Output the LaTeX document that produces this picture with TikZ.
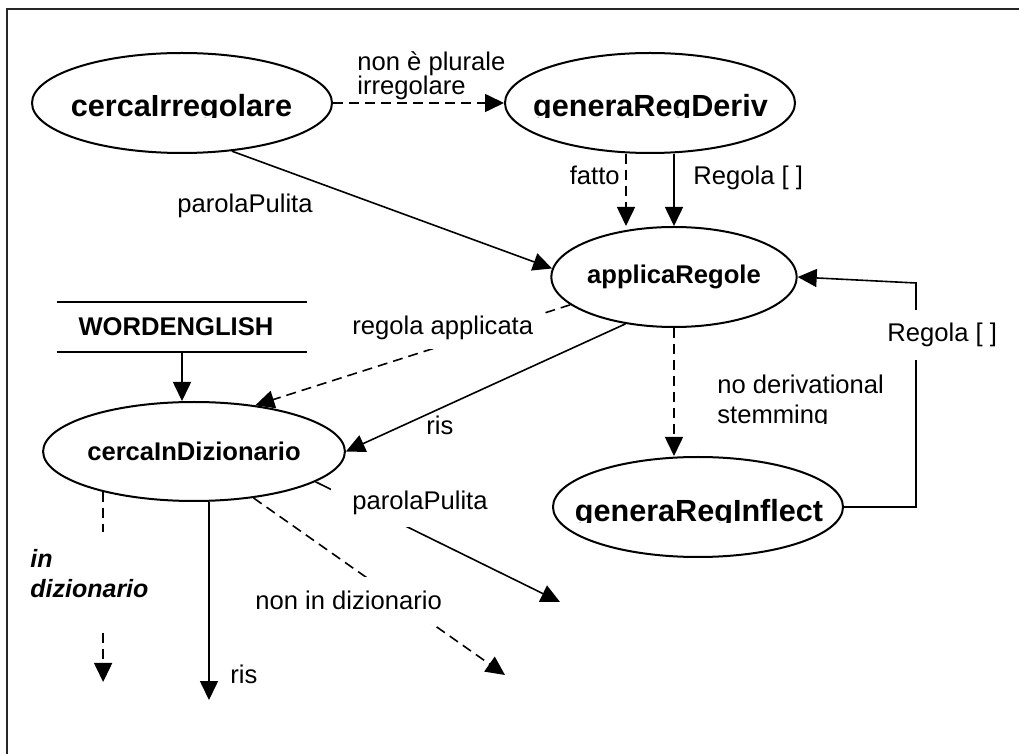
\documentclass[tikz,border=0pt]{standalone}
\usepackage{fontspec}
\setmainfont{Liberation Sans}
\usetikzlibrary{arrows.meta,shapes.geometric}
\begin{document}
\begin{tikzpicture}[x=0.5pt,y=-0.5pt,
  state/.style={draw, ellipse, line width=1pt, inner sep=0pt},
  bigname/.style={font=\fontsize{15.3}{18}\selectfont\bfseries, inner sep=0pt},
  midname/.style={font=\fontsize{12.8}{15}\selectfont\bfseries},
  lbl/.style={font=\fontsize{12.8}{15}\selectfont, inner sep=0pt},
  cover/.style={fill=white},
  flow/.style={line width=0.8pt, -{Triangle[length=9.5pt,width=9pt]}},
  alt/.style={flow, dash pattern=on 5pt off 3pt},
  frameline/.style={line width=1.3pt, black!85}
]
\useasboundingbox (0,0) rectangle (1019,754);

% page frame (top and left rules)
\draw[frameline] (7,754) -- (7,9) -- (1019,9);

% processes
\node[state, minimum width=150pt, minimum height=50pt] (ci) at (182,103) {};
\node[state, minimum width=145pt, minimum height=50pt] (gd) at (650,103) {};
\node[state, minimum width=121pt, minimum height=50pt, midname] (ar) at (674,277) {applicaRegole};
\node[state, minimum width=145pt, minimum height=50pt] (gi) at (698,507) {};
\node[state, minimum width=137pt, minimum height=49.5pt, midname] (cd) at (194,451.5) {cercaInDizionario};

% process names whose descenders are cut at the baseline
\begin{scope}
  \clip (20,60) rectangle (340,118);
  \node[bigname, anchor=base] (ci-name) at (181.5,117) {cercaIrregolare};
\end{scope}
\begin{scope}
  \clip (500,60) rectangle (800,118);
  \node[bigname, anchor=base] (gd-name) at (650.5,117) {generaRegDeriv};
\end{scope}
\begin{scope}
  \clip (550,470) rectangle (845,523);
  \node[bigname, anchor=base] (gi-name) at (699,522) {generaRegInflect};
\end{scope}

% data store
\node[minimum width=125pt, minimum height=25pt, inner sep=0pt] (we) at (182,327) {};
\draw[line width=1pt] (we.north west) -- (we.north east) (we.south west) -- (we.south east);
\node[midname, inner sep=0pt, anchor=base] (we-name) at (176,336) {WORDENGLISH};

% flows between processes
\draw[alt] (ci.east) -- (gd.west);
\draw[flow] (ci.-44) -- (ar.176);
\draw[alt] ([xshift=-12pt]gd.south) -- ([xshift=-24pt]ar.north);
\draw[flow] ([xshift=12pt]gd.south) -- (ar.north);
\draw[flow] (ar.224) -- (cd.east);
\draw[alt] (ar.195) -- (cd.37);
\draw[alt] (ar.south) -- ([xshift=-12pt]gi.north);
\coordinate (loop) at (916,283);
\draw[flow] (gi.east) -| (loop) -- (ar.east);
\draw[flow] (we.south) -- (we.south |- cd.north);

% outputs of cercaInDizionario
\coordinate (dictGapTop) at (107,532);
\coordinate (dictGapBot) at (107,633);
\coordinate (dictEnd) at (107,682);
\draw[alt] (cd.204) -- (cd.204 |- dictGapTop) (cd.204 |- dictGapBot) -- (cd.204 |- dictEnd);
\coordinate (risEnd) at (209,700);
\draw[flow] (cd.south -| risEnd) -- (risEnd);
\coordinate (missEnd) at (505,675);
\draw[alt] (cd.-38) -- (missEnd);
\coordinate (cleanEnd) at (560,602);
\draw[flow] (cd.-14) -- (cleanEnd);

% flow labels
\node[lbl, font=\fontsize{12.8}{12}\selectfont, anchor=north west, align=left] (l-plural) at (357,51) {non è plurale\\irregolare};
\node[lbl, anchor=base west] (l-clean1) at (177,213) {parolaPulita};
\node[lbl, anchor=base east] (l-done) at (620,185) {fatto};
\node[lbl, anchor=base west] (l-rule1) at (693,185) {Regola [ ]};
\node[lbl, cover, anchor=base west, inner xsep=4pt, inner ysep=4.2pt] (l-applied) at (344,335) {regola applicata};
\node[lbl, anchor=base west] (l-res1) at (426,435) {ris};
\begin{scope}
  \clip (700,360) rectangle (900,424);
  \node[lbl, anchor=north west, align=left] (l-noderiv) at (717,374.3) {no derivational\\stemming};
\end{scope}
\node[lbl, cover, anchor=base west, inner xsep=2pt, inner ysep=6.5pt] (l-rule2) at (883,342) {Regola [ ]};
\node[lbl, cover, anchor=base west, inner xsep=10.5pt, inner ysep=5.8pt] (l-clean2) at (331,510) {parolaPulita};
\node[lbl, cover, anchor=base west, inner xsep=3pt, inner ysep=7pt] (l-missing) at (249,610) {non in dizionario};
\node[lbl, font=\fontsize{12.5}{15}\selectfont\bfseries\itshape, anchor=north west, align=left] (l-found) at (30,548.7) {in\\dizionario};
\node[lbl, anchor=base west] (l-res2) at (230,683) {ris};
\end{tikzpicture}
\end{document}
